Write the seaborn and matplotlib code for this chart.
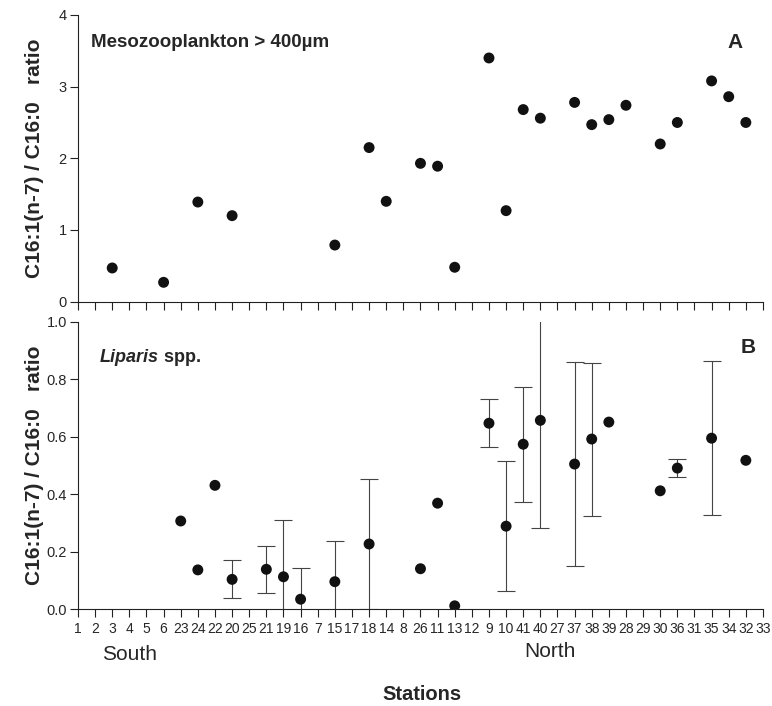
import pandas as pd
import numpy as np
import matplotlib
matplotlib.use("Agg")
import matplotlib.pyplot as plt
import seaborn as sns


# station order along the x axis (south -> north)
stations = ['1', '2', '3', '4', '5', '6', '23', '24', '22', '20', '25', '21', '19', '16', '7',
            '15', '17', '18', '14', '8', '26', '11', '13', '12', '9', '10', '41', '40', '27',
            '37', '38', '39', '28', '29', '30', '36', '31', '35', '34', '32', '33']

# panel A - mesozooplankton
meso_st = ['3', '6', '24', '20', '15', '18', '14', '26', '11', '13', '9', '10', '41', '40',
           '37', '38', '39', '28', '30', '36', '35', '34', '32']
meso_ratio = [0.47, 0.27, 1.39, 1.20, 0.79, 2.15, 1.40, 1.93, 1.89, 0.48, 3.40, 1.27, 2.68,
              2.56, 2.78, 2.47, 2.54, 2.74, 2.20, 2.50, 3.08, 2.86, 2.50]

# panel B - Liparis spp. (mean, sd; nan = single value)
lip_st = ['23', '24', '22', '20', '21', '19', '16', '15', '18', '26', '11', '13', '9', '10',
          '41', '40', '37', '38', '39', '30', '36', '35', '32']
lip_ratio = [0.307, 0.137, 0.431, 0.104, 0.139, 0.113, 0.035, 0.096, 0.227, 0.141, 0.369,
             0.012, 0.647, 0.289, 0.574, 0.657, 0.505, 0.592, 0.651, 0.412, 0.491, 0.595, 0.518]
lip_sd = [np.nan, np.nan, np.nan, 0.066, 0.082, 0.197, 0.110, 0.141, 0.227, np.nan, np.nan,
          np.nan, 0.084, 0.227, 0.200, 0.374, 0.355, 0.266, np.nan, np.nan, 0.031, 0.267, np.nan]

pos = {s: i for i, s in enumerate(stations)}
meso = pd.DataFrame({'station': meso_st, 'ratio': meso_ratio})
meso['x'] = meso['station'].map(pos)
lip = pd.DataFrame({'station': lip_st, 'ratio': lip_ratio, 'sd': lip_sd})
lip['x'] = lip['station'].map(pos)

sns.set_style("ticks")
plt.rcParams['font.family'] = ['Liberation Sans', 'DejaVu Sans']
plt.rcParams['axes.linewidth'] = 0.8
plt.rcParams['axes.edgecolor'] = '#222222'

fig = plt.figure(figsize=(7.72, 7.06), dpi=100)
axA = fig.add_axes([0.1010, 0.5727, 0.8873, 0.4061])
axB = fig.add_axes([0.1010, 0.1370, 0.8873, 0.4073])

sns.scatterplot(data=meso, x='x', y='ratio', ax=axA, color='#111111', s=62,
                edgecolor='none', legend=False)

err = lip.dropna(subset=['sd'])
axB.errorbar(err['x'], err['ratio'], yerr=err['sd'], fmt='none', ecolor='#444444',
             elinewidth=0.8, capsize=6.5, capthick=0.8, zorder=1)
sns.scatterplot(data=lip, x='x', y='ratio', ax=axB, color='#111111', s=62,
                edgecolor='none', legend=False, zorder=3)

for ax in (axA, axB):
    ax.set_xlim(0, 40)
    ax.set_xticks(range(len(stations)))
    ax.set_xlabel('')
    ax.set_ylabel('')
    sns.despine(ax=ax)
    ax.tick_params(axis='both', direction='out', length=6, width=0.8, color='#222222')
    ax.tick_params(axis='y', labelsize=10.5, pad=2)

axA.set_ylim(0, 4)
axA.set_yticks([0, 1, 2, 3, 4])
axA.set_xticklabels([])

axB.set_ylim(0, 1.0)
axB.set_yticks([0.0, 0.2, 0.4, 0.6, 0.8, 1.0])
axB.set_yticklabels(['0.0', '0.2', '0.4', '0.6', '0.8', '1.0'])
axB.set_xticklabels(stations, fontsize=10)
axB.tick_params(axis='x', pad=3)

ylab = 'C16:1(n-7) / C16:0   ratio'
fig.text(0.045, 0.5727 + 0.4061 / 2, ylab, rotation=90, ha='center', va='center',
         fontsize=15, fontweight='bold')
fig.text(0.045, 0.1370 + 0.4073 / 2, ylab, rotation=90, ha='center', va='center',
         fontsize=15, fontweight='bold')

fig.text(0.1175, 0.9339, 'Mesozooplankton > 400µm', ha='left', va='baseline',
         fontsize=13.5, fontweight='bold')
fig.text(0.9527, 0.932, 'A', ha='center', va='baseline', fontsize=15, fontweight='bold')

t1 = fig.text(0.1295, 0.4877, 'Liparis', ha='left', va='baseline', fontsize=13,
              fontweight='bold', style='italic')
axB.annotate(' spp.', xy=(1, 0), xycoords=t1, ha='left', va='bottom', fontsize=13,
             fontweight='bold')
fig.text(0.9693, 0.5, 'B', ha='center', va='baseline', fontsize=15, fontweight='bold')

fig.text(0.1684, 0.0652, 'South', ha='center', va='baseline', fontsize=15)
fig.text(0.7118, 0.0694, 'North', ha='center', va='baseline', fontsize=15)
fig.text(0.5462, 0.0085, 'Stations', ha='center', va='baseline', fontsize=14.5,
         fontweight='bold')

fig.savefig('out.png', dpi=100)
